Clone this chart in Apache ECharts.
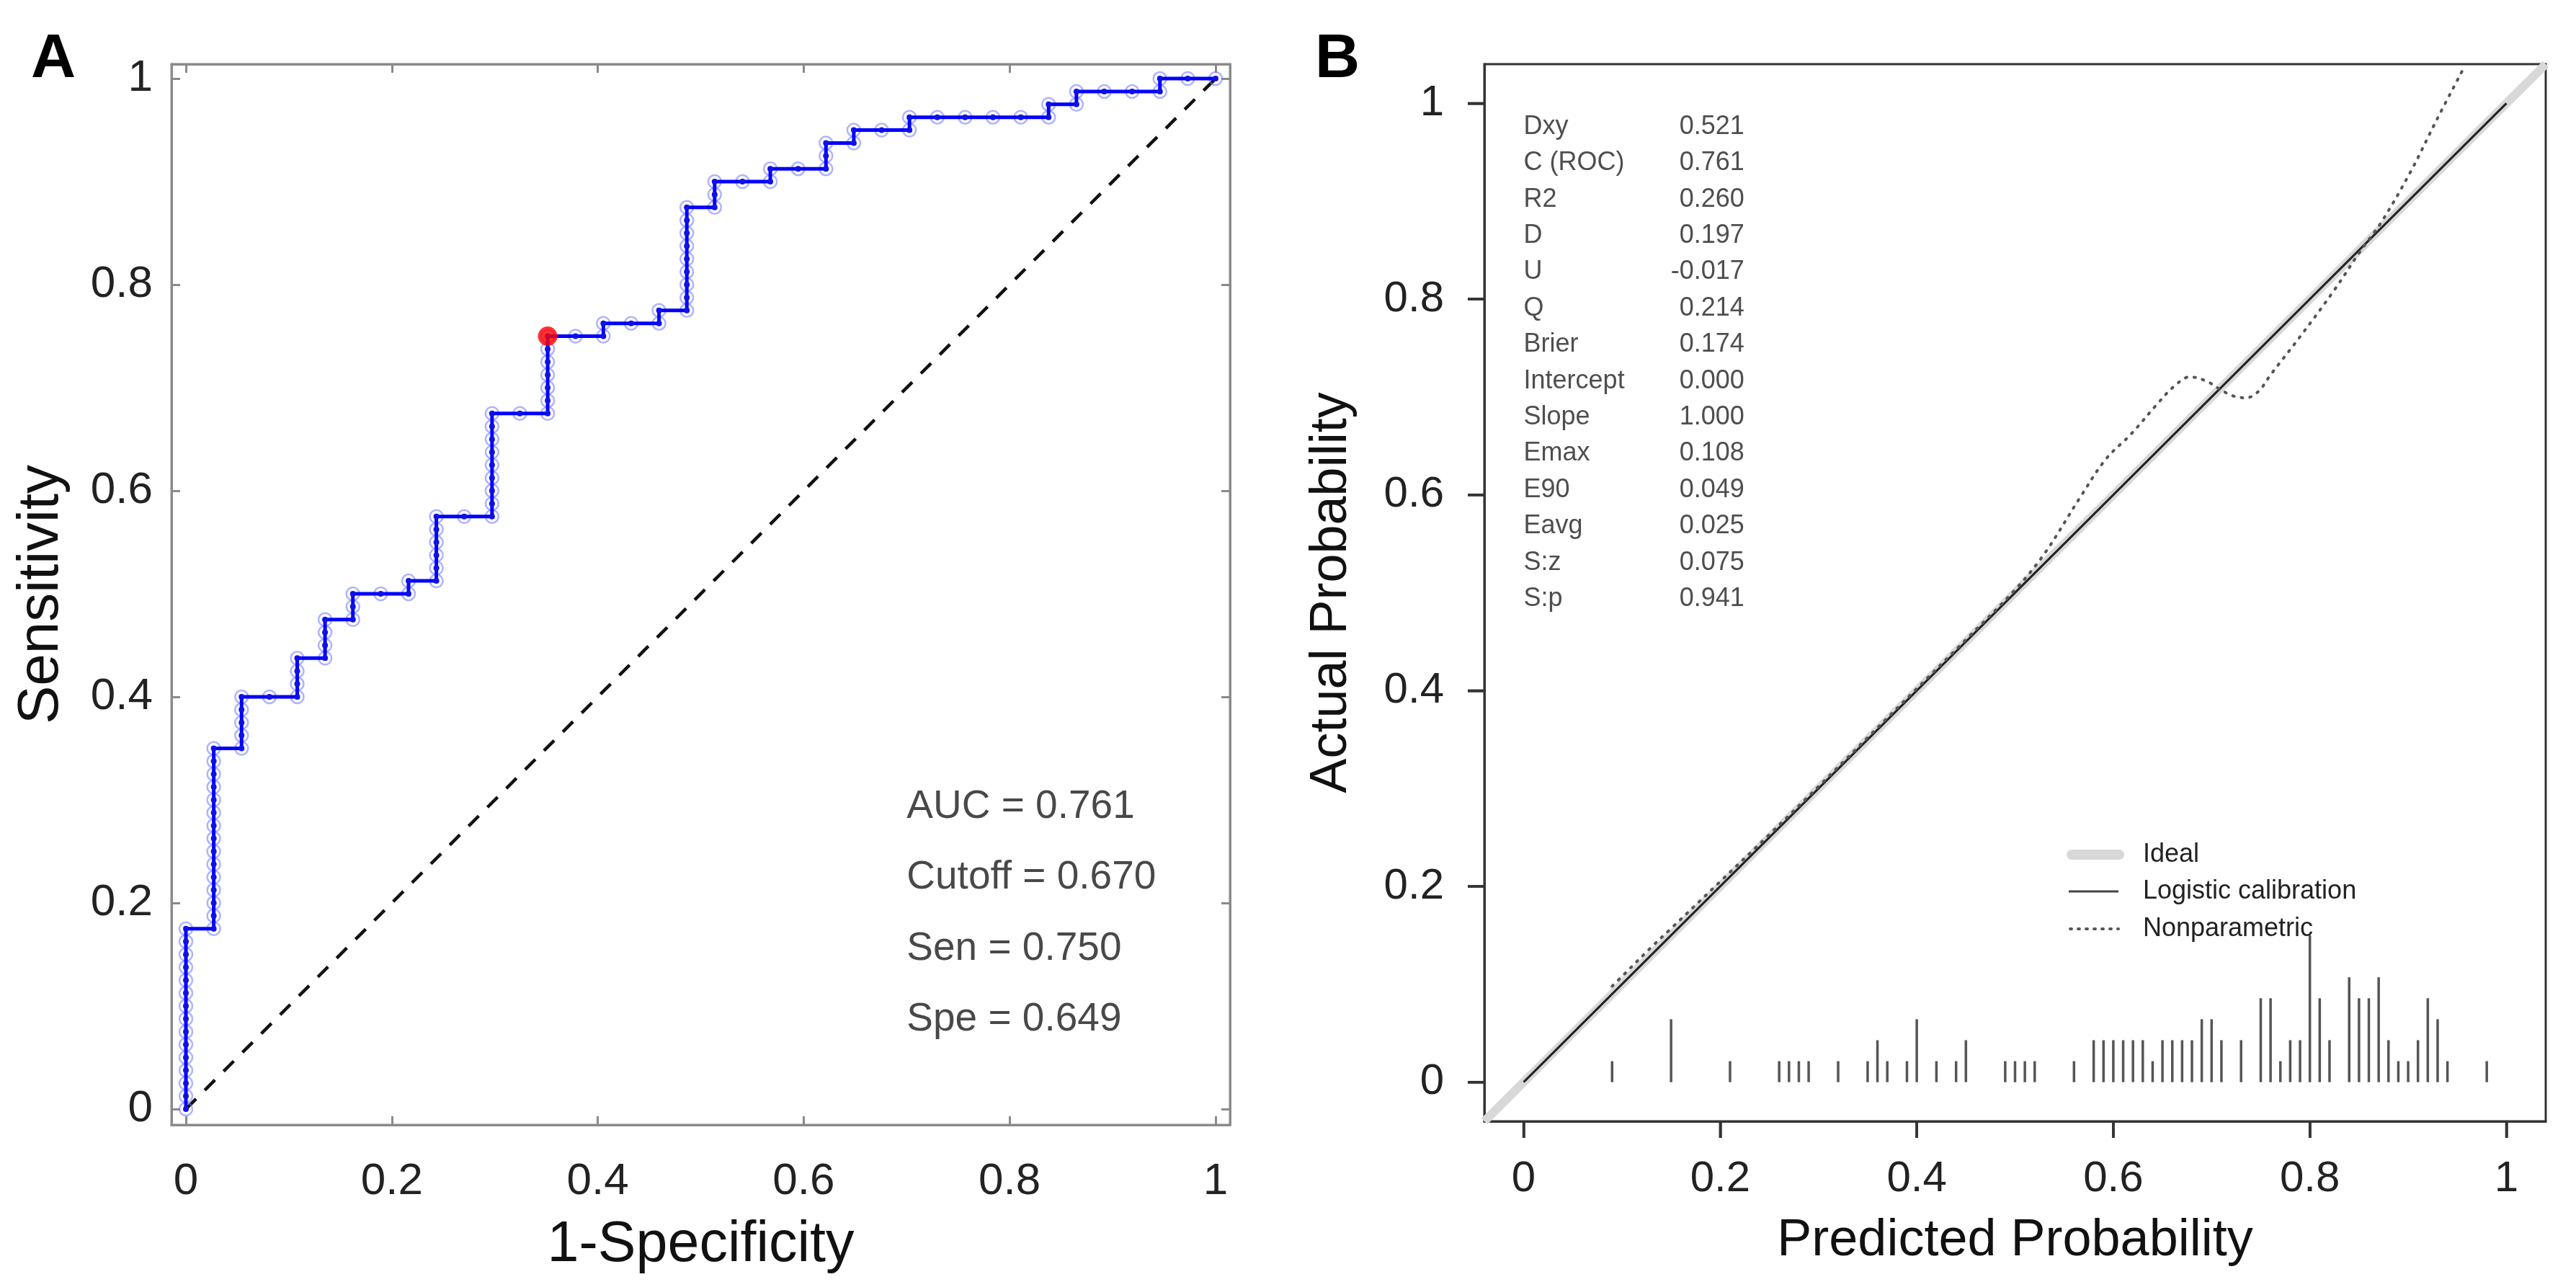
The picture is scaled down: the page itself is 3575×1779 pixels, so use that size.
<!DOCTYPE html>
<html>
<head>
<meta charset="utf-8">
<script src="https://cdn.jsdelivr.net/npm/echarts@6/dist/echarts.min.js"></script>
<style>
html,body{margin:0;padding:0;background:#fff;}
#chart{width:3575px;height:1779px;}
</style>
</head>
<body>
<div id="chart"></div>
<script>
// ---------------- DATA ----------------
// Panel A: ROC curve, as counts of false positives (of 37 negatives) and true positives (of 80 positives)
const nNegative = 37;
const nPositive = 80;
const rocFalsePos = [
  0,0,0,0,0,0,0,0,0,0,0,0,0,0,0,
  1,1,1,1,1,1,1,1,1,1,1,1,1,1,1,
  2,2,2,2,2,
  3,
  4,4,4,4,
  5,5,5,5,
  6,6,6,
  7,
  8,8,
  9,9,9,9,9,9,
  10,
  11,11,11,11,11,11,11,11,11,
  12,
  13,13,13,13,13,13,13,
  14,
  15,15,
  16,
  17,17,
  18,18,18,18,18,18,18,18,18,
  19,19,19,
  20,
  21,21,
  22,
  23,23,23,
  24,24,
  25,
  26,26,
  27,28,29,30,
  31,31,
  32,32,
  33,34,
  35,35,
  36,37
];
const rocTruePos = [
  0,1,2,3,4,5,6,7,8,9,10,11,12,13,14,
  14,15,16,17,18,19,20,21,22,23,24,25,26,27,28,
  28,29,30,31,32,
  32,
  32,33,34,35,
  35,36,37,38,
  38,39,40,
  40,
  40,41,
  41,42,43,44,45,46,
  46,
  46,47,48,49,50,51,52,53,54,
  54,
  54,55,56,57,58,59,60,
  60,
  60,61,
  61,
  61,62,
  62,63,64,65,66,67,68,69,70,
  70,71,72,
  72,
  72,73,
  73,
  73,74,75,
  75,76,
  76,
  76,77,
  77,77,77,77,
  77,78,
  78,79,
  79,79,
  79,80,
  80,80
];
const cutoffCounts = [13, 60];           // FP count, TP count at the optimal cutoff
const chanceLine = [[0, 0], [1, 1]];
const rocStatLabels = ['AUC = 0.761', 'Cutoff = 0.670', 'Sen = 0.750', 'Spe = 0.649'];
const axisTicks = [0, 0.2, 0.4, 0.6, 0.8, 1];

// Panel B: calibration
const idealLine = [[-0.04, -0.04], [1.04, 1.04]];
const logisticLine = [[0, 0], [1, 1]];
const nonparamX = [0.09, 0.10, 0.13, 0.15, 0.20, 0.25, 0.30, 0.35, 0.40, 0.45, 0.50, 0.53, 0.566, 0.592, 0.618, 0.644, 0.662, 0.678, 0.695, 0.709, 0.722, 0.735, 0.748, 0.760, 0.790, 0.825, 0.851, 0.873, 0.903, 0.929, 0.955];
const nonparamY = [0.098, 0.108, 0.138, 0.157, 0.205, 0.253, 0.302, 0.352, 0.402, 0.452, 0.503, 0.540, 0.597, 0.636, 0.662, 0.692, 0.711, 0.7205, 0.716, 0.7075, 0.701, 0.699, 0.706, 0.7226, 0.7615, 0.8094, 0.8485, 0.879, 0.931, 0.983, 1.033];
const spikeX = [0.09,0.15,0.21,0.26,0.27,0.28,0.29,0.32,0.35,0.36,0.37,0.39,0.40,0.42,0.44,0.45,0.49,0.50,0.51,0.52,0.56,0.58,0.59,0.60,0.61,0.62,0.63,0.64,0.65,0.66,0.67,0.68,0.69,0.70,0.71,0.73,0.75,0.76,0.77,0.78,0.79,0.80,0.81,0.82,0.84,0.85,0.86,0.87,0.88,0.89,0.90,0.91,0.92,0.93,0.94,0.98];
const spikeCount = [1,3,1,1,1,1,1,1,1,2,1,1,3,1,1,2,1,1,1,1,1,2,2,2,2,2,2,1,2,2,2,2,3,3,2,2,4,4,1,2,2,7,4,2,5,4,4,5,2,1,1,2,4,3,1,1];
const spikeMaxHeight = 0.15;
const statNames = ['Dxy','C (ROC)','R2','D','U','Q','Brier','Intercept','Slope','Emax','E90','Eavg','S:z','S:p'];
const statValues = ['0.521','0.761','0.260','0.197','-0.017','0.214','0.174','0.000','1.000','0.108','0.049','0.025','0.075','0.941'];
const legendNames = ['Ideal', 'Logistic calibration', 'Nonparametric'];

// ---------------- CHART ----------------
const FONT = '"Liberation Sans", Arial, Helvetica, sans-serif';
const fmt = v => (Math.abs(v) < 1e-9 ? '0' : Math.abs(v - 1) < 1e-9 ? '1' : v.toFixed(1));

const rocPoints = rocFalsePos.map((fp, i) => [fp / nNegative, rocTruePos[i] / nPositive]);
const cutoffPoint = [cutoffCounts[0] / nNegative, cutoffCounts[1] / nPositive];
const maxCount = Math.max(...spikeCount);
const spikeData = spikeX.map((x, i) => [x, spikeCount[i] * spikeMaxHeight / maxCount]);
const nonparamData = nonparamX.map((x, i) => [x, nonparamY[i]]);

const rocStatData = rocStatLabels.map((t, i) => ({ value: [0.70, 0.293 - i * 0.0687], name: t }));
const statNameData = statNames.map((t, i) => ({ value: [0, 0.976 - i * 0.0371], name: t }));
const statValueData = statValues.map((t, i) => ({ value: [0.2246, 0.976 - i * 0.0371], name: t }));

const leftGray = '#8a8a8a';
const rightDark = '#333333';
const R_MIN = -0.04, R_MAX = 1.04;
const TICK_LEN = 23;

function leftAxisCommon(extra) {
  return Object.assign({
    type: 'value', gridIndex: 0,
    splitLine: { show: false },
    axisLine: { show: true, onZero: false, lineStyle: { color: leftGray, width: 3 } },
    axisTick: { show: true, inside: true, length: 12, lineStyle: { color: leftGray, width: 3 } },
  }, extra);
}

function rightAxisCommon(extra) {
  return Object.assign({
    type: 'value', gridIndex: 1, min: R_MIN, max: R_MAX,
    splitLine: { show: false },
    axisLine: { show: true, onZero: false, lineStyle: { color: rightDark, width: 3 } },
    axisTick: { show: true, inside: false, length: TICK_LEN, customValues: axisTicks, lineStyle: { color: rightDark, width: 3.5 } },
  }, extra);
}

const baseGraphic = [
  { type: 'text', left: 43, top: 40, style: { text: 'A', font: 'bold 86px ' + FONT, fill: '#000' } },
  { type: 'text', left: 1825, top: 40, style: { text: 'B', font: 'bold 86px ' + FONT, fill: '#000' } },
  // legend of panel B
  { type: 'line', shape: { x1: 2875, y1: 1186, x2: 2941, y2: 1186 }, style: { stroke: '#d8d8d8', lineWidth: 14, lineCap: 'round' } },
  { type: 'line', shape: { x1: 2871, y1: 1237, x2: 2940, y2: 1237 }, style: { stroke: '#444', lineWidth: 3 } },
  { type: 'line', shape: { x1: 2873, y1: 1289, x2: 2940, y2: 1289 }, style: { stroke: '#555', lineWidth: 4, lineDash: [2, 9], lineCap: 'round' } },
  { type: 'text', x: 2974, y: 1186, style: { text: legendNames[0], font: '36px ' + FONT, fill: '#222', verticalAlign: 'middle' } },
  { type: 'text', x: 2974, y: 1237, style: { text: legendNames[1], font: '36px ' + FONT, fill: '#222', verticalAlign: 'middle' } },
  { type: 'text', x: 2974, y: 1289, style: { text: legendNames[2], font: '36px ' + FONT, fill: '#222', verticalAlign: 'middle' } }
];

const option = {
  animation: false,
  backgroundColor: '#ffffff',
  textStyle: { fontFamily: FONT },
  grid: [
    { left: 238, top: 89, width: 1469, height: 1472, show: true, borderColor: leftGray, borderWidth: 3, backgroundColor: 'transparent' },
    { left: 2060, top: 89, width: 1473, height: 1467, show: true, borderColor: rightDark, borderWidth: 3, backgroundColor: 'transparent' }
  ],
  xAxis: [
    leftAxisCommon({
      position: 'bottom', min: -0.014, max: 1.014,
      axisLabel: { show: true, customValues: axisTicks, formatter: fmt, fontSize: 62, margin: 48, color: '#222', fontFamily: FONT },
      name: '1-Specificity', nameLocation: 'middle', nameGap: 128,
      nameTextStyle: { fontSize: 79, color: '#111', fontFamily: FONT }
    }),
    leftAxisCommon({
      position: 'top', min: -0.014, max: 1.014,
      axisLabel: { show: false }
    }),
    rightAxisCommon({
      position: 'bottom',
      axisLabel: { show: true, customValues: axisTicks, formatter: fmt, fontSize: 60, margin: 50, color: '#222', fontFamily: FONT },
      name: 'Predicted Probability', nameLocation: 'middle', nameGap: 130,
      nameTextStyle: { fontSize: 72, color: '#111', fontFamily: FONT }
    })
  ],
  yAxis: [
    leftAxisCommon({
      position: 'left', min: -0.0154, max: 1.014,
      axisLabel: { show: true, customValues: axisTicks, formatter: fmt, fontSize: 62, margin: 26, color: '#222', fontFamily: FONT },
      name: 'Sensitivity', nameLocation: 'middle', nameGap: 140,
      nameTextStyle: { fontSize: 80, color: '#111', fontFamily: FONT }
    }),
    leftAxisCommon({
      position: 'right', min: -0.0154, max: 1.014,
      axisLabel: { show: false }
    }),
    rightAxisCommon({
      position: 'left',
      axisLabel: { show: true, customValues: axisTicks, formatter: fmt, fontSize: 60, margin: 56, color: '#222', fontFamily: FONT },
      name: 'Actual Probability', nameLocation: 'middle', nameGap: 176,
      nameTextStyle: { fontSize: 72, color: '#111', fontFamily: FONT }
    })
  ],
  series: [
    // ---- Panel A ----
    {
      name: 'chance', type: 'line', xAxisIndex: 0, yAxisIndex: 0, data: chanceLine,
      symbol: 'none', z: 1,
      lineStyle: { color: '#111', width: 4.5, type: [20, 17] }
    },
    {
      name: 'roc-halo', type: 'scatter', xAxisIndex: 0, yAxisIndex: 0, data: rocPoints,
      symbol: 'circle', symbolSize: 18, z: 2,
      itemStyle: { color: 'rgba(255,255,255,0)', borderColor: 'rgba(110,120,255,0.7)', borderWidth: 2.5 }
    },
    {
      name: 'roc', type: 'line', xAxisIndex: 0, yAxisIndex: 0, data: rocPoints,
      symbol: 'circle', symbolSize: 8, showAllSymbol: true, z: 3,
      itemStyle: { color: '#1010e8' },
      lineStyle: { color: '#0000ff', width: 5 }
    },
    {
      name: 'cutoff', type: 'scatter', xAxisIndex: 0, yAxisIndex: 0, data: [cutoffPoint],
      symbol: 'circle', symbolSize: 27, z: 5,
      itemStyle: { color: '#ff0000' }
    },
    {
      name: 'roc-stats', type: 'scatter', xAxisIndex: 0, yAxisIndex: 0, data: rocStatData,
      symbolSize: 0, z: 6,
      label: { show: true, position: 'right', distance: 0, formatter: p => p.name, fontSize: 55, color: '#1a1a1a', fontFamily: FONT }
    },
    // ---- Panel B ----
    {
      name: 'Ideal', type: 'line', xAxisIndex: 2, yAxisIndex: 2, data: idealLine,
      symbol: 'none', z: 1,
      lineStyle: { color: '#d8d8d8', width: 12 }
    },
    {
      name: 'Logistic calibration', type: 'line', xAxisIndex: 2, yAxisIndex: 2, data: logisticLine,
      symbol: 'none', z: 3,
      lineStyle: { color: '#222', width: 3 }
    },
    {
      name: 'Nonparametric', type: 'line', xAxisIndex: 2, yAxisIndex: 2, data: nonparamData,
      symbol: 'none', smooth: 0.35, z: 4, clip: true,
      lineStyle: { color: '#555', width: 4, type: [2, 10], cap: 'round' }
    },
    {
      name: 'spikes', type: 'custom', xAxisIndex: 2, yAxisIndex: 2, data: spikeData,
      encode: { x: 0, y: 1 }, z: 3,
      renderItem: function (params, api) {
        const x = api.value(0), h = api.value(1);
        const p0 = api.coord([x, 0]);
        const p1 = api.coord([x, h]);
        return {
          type: 'line',
          shape: { x1: p0[0], y1: p0[1], x2: p1[0], y2: p1[1] },
          style: { stroke: '#555', lineWidth: 3.5 }
        };
      }
    },
    {
      name: 'stat-names', type: 'scatter', xAxisIndex: 2, yAxisIndex: 2, data: statNameData,
      symbolSize: 0, z: 6,
      label: { show: true, position: 'right', distance: 0, formatter: p => p.name, fontSize: 36, color: '#222', fontFamily: FONT }
    },
    {
      name: 'stat-values', type: 'scatter', xAxisIndex: 2, yAxisIndex: 2, data: statValueData,
      symbolSize: 0, z: 6,
      label: { show: true, position: 'left', distance: 0, formatter: p => p.name, fontSize: 36, color: '#222', fontFamily: FONT }
    }
  ],
  graphic: baseGraphic
};

const chart = echarts.init(document.getElementById('chart'));
chart.setOption(option);

// Outward R-style ticks of panel B, positioned through the chart's own scales (backup for the axis ticks)
const tickGraphic = [];
axisTicks.forEach(v => {
  let py = null, px = null;
  try {
    py = chart.convertToPixel({ gridIndex: 1 }, [R_MIN, v]);
    px = chart.convertToPixel({ gridIndex: 1 }, [v, R_MIN]);
  } catch (e) { /* ignore */ }
  if (py && isFinite(py[0]) && isFinite(py[1])) {
    tickGraphic.push({ type: 'line', z: 100, zlevel: 0, shape: { x1: py[0] - TICK_LEN, y1: py[1], x2: py[0], y2: py[1] }, style: { stroke: rightDark, lineWidth: 3.5 } });
  }
  if (px && isFinite(px[0]) && isFinite(px[1])) {
    tickGraphic.push({ type: 'line', z: 100, zlevel: 0, shape: { x1: px[0], y1: px[1], x2: px[0], y2: px[1] + TICK_LEN }, style: { stroke: rightDark, lineWidth: 3.5 } });
  }
});
chart.setOption({ graphic: baseGraphic.concat(tickGraphic) });
</script>
</body>
</html>
